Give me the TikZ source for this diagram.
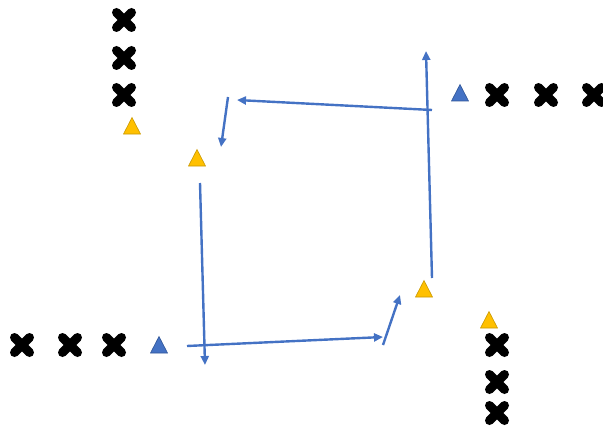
\documentclass[tikz,border=0pt]{standalone}
\usetikzlibrary{arrows.meta}
\definecolor{arrowblue}{HTML}{4472C4}
\definecolor{triblue}{HTML}{4472C4}
\definecolor{triblueedge}{HTML}{2F5597}
\definecolor{triyellow}{HTML}{FFC000}
\definecolor{triyellowedge}{HTML}{C99800}
\tikzset{
  flow/.style={draw=arrowblue, line width=2.4pt, -{Triangle[length=9pt,width=8pt]}},
  crossmark/.pic={
    \draw[line width=9pt, black, line cap=round] (-7.5,-7.5) -- (7.5,7.5) (-7.5,7.5) -- (7.5,-7.5);
  },
  ytri/.pic={
    \filldraw[fill=triyellow, draw=triyellowedge, line width=0.6pt] (-8.5,8) -- (8.5,8) -- (0,-8.5) -- cycle;
  },
  btri/.pic={
    \filldraw[fill=triblue, draw=triblueedge, line width=0.6pt] (-8.5,8) -- (8.5,8) -- (0,-8.5) -- cycle;
  }
}
\begin{document}
\begin{tikzpicture}[x=1pt,y=-1pt]
\useasboundingbox (0,0) rectangle (603,428);
% crosses
\foreach \y in {20,58,95} \pic at (124,\y) {crossmark};
\foreach \x in {497,546,594} \pic at (\x,95) {crossmark};
\foreach \x in {22,70,114} \pic at (\x,345) {crossmark};
\foreach \y in {345,382,413} \pic at (497,\y) {crossmark};
% triangles
\pic at (132,126) {ytri};
\pic at (197,158) {ytri};
\pic at (424,289) {ytri};
\pic at (489,320) {ytri};
\pic at (460,93) {btri};
\pic at (159,345) {btri};
% arrow end points
\coordinate (a1s) at (432,110); \coordinate (a1e) at (237,100);
\coordinate (a2s) at (228,97);  \coordinate (a2e) at (221,147);
\coordinate (a3s) at (200,183); \coordinate (a3e) at (205,365);
\coordinate (a4s) at (187,346); \coordinate (a4e) at (383,337);
\coordinate (a5s) at (383,345); \coordinate (a5e) at (400,295);
\coordinate (a6s) at (432,278); \coordinate (a6e) at (426,51);
\draw[flow] (a1s) -- (a1e);
\draw[flow] (a2s) -- (a2e);
\draw[flow] (a3s) -- (a3e);
\draw[flow] (a4s) -- (a4e);
\draw[flow] (a5s) -- (a5e);
\draw[flow] (a6s) -- (a6e);
\end{tikzpicture}
\end{document}
